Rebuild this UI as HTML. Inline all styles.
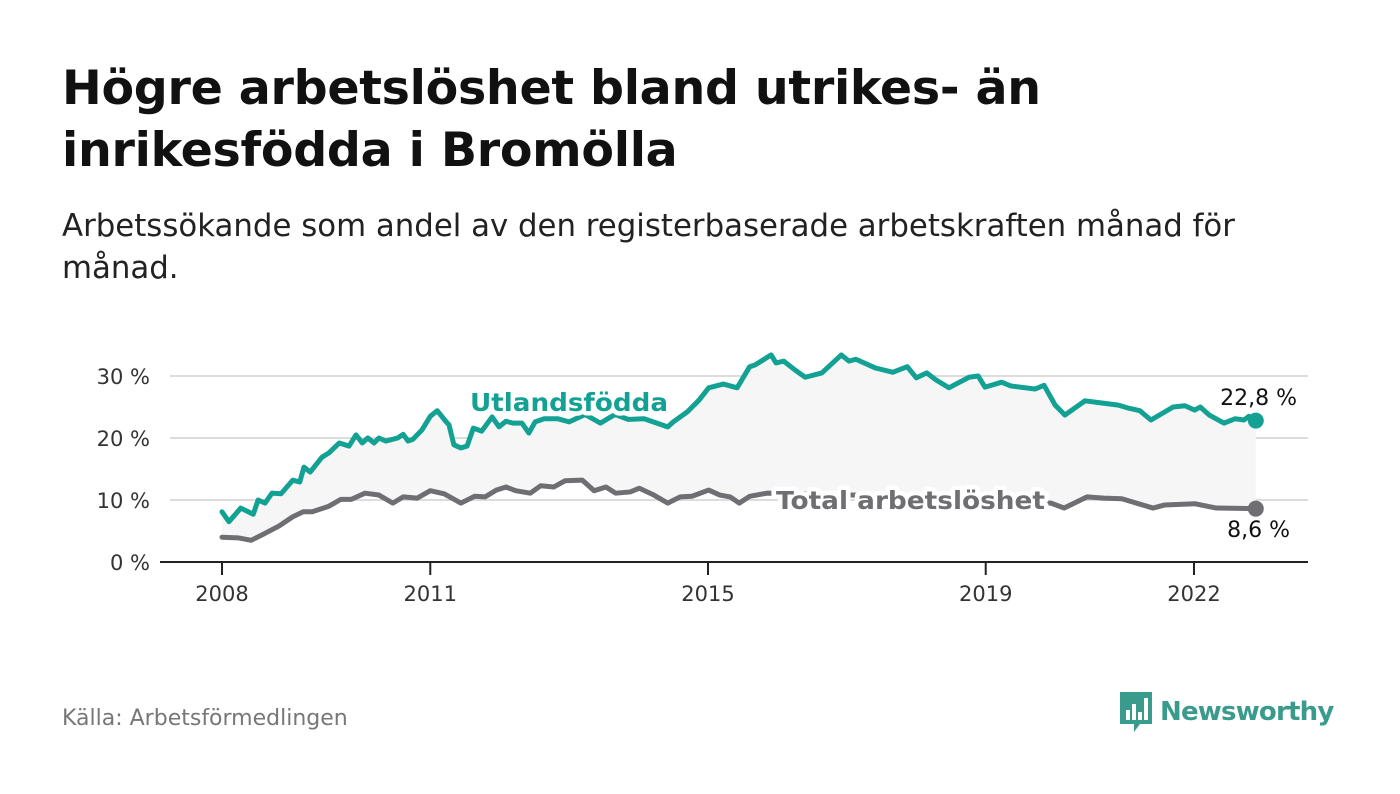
<!DOCTYPE html>
<html><head><meta charset="utf-8">
<style>
body{margin:0;width:1400px;height:794px;background:#fff;overflow:hidden;font-family:"DejaVu Sans","Liberation Sans",sans-serif;}
h1{position:absolute;left:62px;top:58px;margin:0;font-size:47.5px;line-height:62px;font-weight:bold;color:#111;letter-spacing:-0.3px;}
.sub{position:absolute;left:62px;top:205px;margin:0;font-size:30.8px;line-height:42px;color:#222;width:1300px;letter-spacing:0px;}
.src{position:absolute;left:62px;top:706px;font-size:22px;color:#777;}
.logo{position:absolute;left:1118px;top:690px;display:flex;align-items:center;}
.logo span{font-size:26px;font-weight:bold;color:#3a9a8c;margin-left:6px;letter-spacing:-0.8px;}
svg{position:absolute;left:0;top:0;}
</style></head><body>
<h1>Högre arbetslöshet bland utrikes- än<br>inrikesfödda i Bromölla</h1>
<p class="sub">Arbetssökande som andel av den registerbaserade arbetskraften månad för<br>månad.</p>
<div class="src">Källa: Arbetsförmedlingen</div>
<div class="logo">
<svg style="position:static" width="36" height="44" viewBox="0 0 36 44"><path d="M2 2h32v32h-12l-6 8v-8h-14z" fill="#3a9a8c"/><rect x="8" y="20" width="4" height="10" fill="#fff"/><rect x="14" y="14" width="4" height="16" fill="#fff"/><rect x="20" y="22" width="4" height="8" fill="#fff"/><rect x="26" y="8" width="4" height="22" fill="#fff"/></svg>
<span>Newsworthy</span></div>
<svg id="chart" width="1400" height="794"></svg>
<script>
const yTicks=[0,10,20,30];
const yTickLabels=["0 %","10 %","20 %","30 %"];
const xTicks=[2008,2011,2015,2019,2022];
const xTickLabels=["2008","2011","2015","2019","2022"];
const utlYears=[2008.00,2008.10,2008.27,2008.45,2008.52,2008.62,2008.72,2008.85,2009.02,2009.12,2009.18,2009.27,2009.44,2009.54,2009.69,2009.83,2009.93,2010.02,2010.10,2010.19,2010.26,2010.36,2010.53,2010.61,2010.68,2010.75,2010.88,2011.00,2011.10,2011.23,2011.27,2011.34,2011.44,2011.53,2011.62,2011.74,2011.89,2011.99,2012.09,2012.19,2012.32,2012.42,2012.51,2012.64,2012.84,2013.00,2013.23,2013.45,2013.66,2013.85,2014.08,2014.42,2014.50,2014.70,2014.87,2015.01,2015.22,2015.42,2015.60,2015.68,2015.91,2015.98,2016.09,2016.25,2016.40,2016.64,2016.92,2017.03,2017.13,2017.41,2017.66,2017.87,2018.00,2018.15,2018.28,2018.47,2018.76,2018.89,2018.99,2019.23,2019.36,2019.71,2019.84,2020.00,2020.14,2020.43,2020.70,2020.91,2021.06,2021.22,2021.38,2021.70,2021.87,2022.01,2022.09,2022.22,2022.43,2022.59,2022.72,2022.79,2022.89];
const utlValues=[8.1,6.5,8.7,7.7,10.0,9.5,11.1,11.0,13.2,12.9,15.3,14.5,16.9,17.6,19.2,18.7,20.5,19.2,20.0,19.2,20.0,19.5,20.0,20.6,19.5,19.8,21.3,23.5,24.4,22.6,22.1,18.9,18.4,18.7,21.6,21.1,23.4,21.8,22.7,22.4,22.4,20.8,22.6,23.1,23.1,22.6,23.8,22.4,23.8,23.0,23.1,21.8,22.6,24.2,26.1,28.1,28.7,28.1,31.5,31.8,33.4,32.1,32.4,31.0,29.8,30.5,33.4,32.4,32.7,31.3,30.6,31.5,29.7,30.5,29.4,28.1,29.8,30.0,28.2,29.0,28.4,27.9,28.5,25.3,23.7,26.0,25.6,25.3,24.8,24.4,22.9,25.0,25.2,24.5,25.0,23.7,22.4,23.1,22.9,23.5,22.8];
const totYears=[2008.00,2008.23,2008.42,2008.58,2008.82,2009.02,2009.17,2009.30,2009.54,2009.71,2009.86,2010.06,2010.26,2010.46,2010.61,2010.81,2011.00,2011.20,2011.44,2011.64,2011.79,2011.95,2012.09,2012.23,2012.44,2012.59,2012.78,2012.94,2013.19,2013.36,2013.53,2013.67,2013.88,2014.01,2014.22,2014.42,2014.60,2014.77,2015.01,2015.17,2015.32,2015.45,2015.60,2015.85,2016.33,2017.05,2017.77,2018.49,2019.21,2019.94,2020.13,2020.46,2020.70,2020.96,2021.41,2021.58,2022.01,2022.32,2022.89];
const totValues=[4.0,3.9,3.5,4.4,5.8,7.3,8.1,8.1,9.0,10.1,10.1,11.1,10.8,9.5,10.5,10.3,11.5,11.0,9.5,10.6,10.5,11.6,12.1,11.5,11.1,12.3,12.1,13.1,13.2,11.5,12.1,11.1,11.3,11.9,10.8,9.5,10.5,10.6,11.6,10.8,10.5,9.5,10.6,11.1,11.0,10.8,10.6,10.2,10.0,9.5,8.7,10.5,10.3,10.2,8.7,9.2,9.4,8.7,8.6];
const NS="http://www.w3.org/2000/svg";
const svg=document.getElementById('chart');
const xS=v=>222+(v-2008)*(1194-222)/14;
const yS=v=>562-v*6.2;
function mk(tag,attrs,parent){const e=document.createElementNS(NS,tag);for(const k in attrs)e.setAttribute(k,attrs[k]);(parent||svg).appendChild(e);return e;}
yTicks.forEach((t,i)=>{
 if(t>0){const g=mk('line',{x1:170,x2:1308,y1:yS(t),y2:yS(t),stroke:'#dcdcdc','stroke-width':2});
 
 }
 const l=mk('text',{x:150,y:yS(t)+8,'text-anchor':'end','font-size':21,fill:'#333'});l.textContent=yTickLabels[i];
 
 
});
let d='M'+utlYears.map((y,i)=>xS(y)+','+yS(utlValues[i])).join('L');
for(let i=totYears.length-1;i>=0;i--)d+='L'+xS(totYears[i])+','+yS(totValues[i]);
const area=mk('path',{d:d+'Z',fill:'#f6f6f6'});


const ax=mk('line',{x1:160,x2:1308,y1:562,y2:562,stroke:'#222','stroke-width':2});


xTicks.forEach((t,i)=>{
 const tk=mk('line',{x1:xS(t),x2:xS(t),y1:562,y2:575,stroke:'#222','stroke-width':2});
 
 
 const l=mk('text',{x:xS(t),y:601,'text-anchor':'middle','font-size':21,fill:'#333'});l.textContent=xTickLabels[i];
 
 
});
function line(ys,vs,color,name){
 const p=mk('path',{d:'M'+ys.map((y,i)=>xS(y)+','+yS(vs[i])).join('L'),fill:'none',stroke:color,'stroke-width':5,'stroke-linejoin':'round','stroke-linecap':'round'});
 
 
 const n=ys.length-1;
 const c=mk('circle',{cx:xS(ys[n]),cy:yS(vs[n]),r:8,fill:color});
 
 
}
line(totYears,totValues,'#6e6e73','total-line');
line(utlYears,utlValues,'#12a192','utlandsfodda-line');
function lab(x,y,txt,color,size,bold,name,anchor,len){
 const t=mk('text',{x:x,y:y,'font-size':size,'font-weight':bold?'bold':'normal',fill:color,stroke:'#fff','stroke-width':bold?9:6,'paint-order':'stroke','stroke-linejoin':'round','text-anchor':anchor||'start'});
 if(len){t.setAttribute('textLength',len);t.setAttribute('lengthAdjust','spacingAndGlyphs');}
 t.textContent=txt;
 
 
}
lab(470,411,'Utlandsfödda','#12a192',25,true,'utlandsfodda-label','start',198);
lab(776,509,'Total arbetslöshet','#6e6e73',25,true,'total-label','start',269);
lab(1297,405,'22,8 %','#111',22,false,'utlandsfodda-end-value','end');
lab(1290,537,'8,6 %','#111',22,false,'total-end-value','end');
</script>
</body></html>
